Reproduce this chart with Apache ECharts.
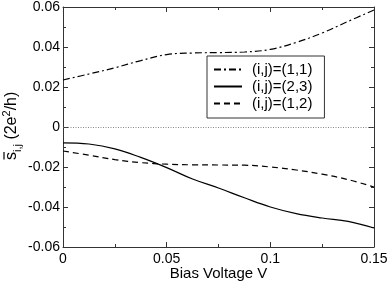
<!DOCTYPE html>
<html><head><meta charset="utf-8">
<script src="https://cdn.jsdelivr.net/npm/echarts@6/dist/echarts.min.js"></script>
<style>html,body{margin:0;padding:0;background:#fff}#c{width:391px;height:283px}</style>
</head><body><div id="c"></div>
<script>
const xValues = [0, 0.0125, 0.025, 0.0375, 0.05, 0.0625, 0.075, 0.0875, 0.1, 0.1125, 0.125, 0.1375, 0.15];
const s11 = [0.0235, 0.0265, 0.0296, 0.0332, 0.0362, 0.0370, 0.0372, 0.0375, 0.0388, 0.0423, 0.0470, 0.0528, 0.0585];
const s23 = [-0.0079, -0.0085, -0.0109, -0.0152, -0.0203, -0.0260, -0.0305, -0.0354, -0.0400, -0.0433, -0.0455, -0.0472, -0.0505];
const s12 = [-0.0120, -0.0141, -0.0163, -0.0178, -0.0186, -0.0189, -0.0190, -0.0191, -0.0200, -0.0215, -0.0236, -0.0263, -0.0300];
const seriesNames = ['(i,j)=(1,1)', '(i,j)=(2,3)', '(i,j)=(1,2)'];
const xTicks = ['0', '0.05', '0.1', '0.15'];
const yTicks = ['-0.06', '-0.04', '-0.02', '0', '0.02', '0.04', '0.06'];

const FONT = "'Liberation Sans', Arial, sans-serif";
const AX = '#333';
const pairs = arr => xValues.map((x, i) => [x, arr[i]]);
const fmtX = v => xTicks[Math.round(v / 0.05)];
const fmtY = v => yTicks[Math.round((v + 0.06) / 0.02)];

const baseAxis = {
  axisLine: { show: true, onZero: false, lineStyle: { color: AX, width: 1 } },
  axisTick: { show: true, inside: true, length: 5, lineStyle: { color: AX } },
  minorTick: { show: true, splitNumber: 2, length: 3, lineStyle: { color: AX } },
  splitLine: { show: false },
  minorSplitLine: { show: false }
};

const chart = echarts.init(document.getElementById('c'), null, { renderer: 'canvas' });
chart.setOption({
  animation: false,
  backgroundColor: '#fff',
  color: ['#000', '#000', '#000'],
  textStyle: { fontFamily: FONT },
  grid: { left: 63, right: 17, top: 7, bottom: 36, containLabel: false, outerBoundsMode: 'none' },
  legend: {
    orient: 'vertical', left: 207, top: 56,
    padding: [6, 12, 7, 6],
    itemWidth: 28, itemHeight: 14, itemGap: 2,
    borderColor: '#333', borderWidth: 1, backgroundColor: '#fff',
    itemStyle: { opacity: 0 },
    textStyle: { fontFamily: FONT, fontSize: 15, color: '#000', padding: [0, 0, 0, 5] },
    data: seriesNames
  },
  graphic: [{
    type: 'group', x: 12, y: 160, rotation: Math.PI / 2, silent: true,
    children: [
      {
        type: 'text', x: 0, y: 0,
        style: {
          text: '{s|s}{sub|i,j}{t| (2e}{sup|2}{t|/h)}',
          align: 'left', verticalAlign: 'middle', fill: '#000',
          font: '16px ' + FONT,
          rich: {
            s: { fontFamily: FONT, fontSize: 16, fill: '#000', lineHeight: 22, verticalAlign: 'middle' },
            t: { fontFamily: FONT, fontSize: 16, fill: '#000', lineHeight: 22, verticalAlign: 'middle' },
            sub: { fontFamily: FONT, fontSize: 11, fill: '#000', lineHeight: 22, verticalAlign: 'bottom' },
            sup: { fontFamily: FONT, fontSize: 11, fill: '#000', lineHeight: 22, verticalAlign: 'top' }
          }
        }
      },
      {
        type: 'line', shape: { x1: 0.5, y1: -8, x2: 8, y2: -8 },
        style: { stroke: '#000', lineWidth: 1.2 }
      }
    ]
  }],
  xAxis: [
    Object.assign({}, baseAxis, {
      type: 'value', min: 0, max: 0.15, interval: 0.05, position: 'bottom',
      name: 'Bias Voltage V', nameLocation: 'middle', nameGap: 19, nameMoveOverlap: false,
      nameTextStyle: { fontFamily: FONT, fontSize: 15, color: '#000' },
      axisLabel: { show: true, formatter: fmtX, fontFamily: FONT, fontSize: 14, color: '#000', margin: 5 }
    }),
    Object.assign({}, baseAxis, {
      type: 'value', min: 0, max: 0.15, interval: 0.05, position: 'top',
      axisLabel: { show: false }
    })
  ],
  yAxis: [
    Object.assign({}, baseAxis, {
      type: 'value', min: -0.06, max: 0.06, interval: 0.02, position: 'left',
      axisLabel: { show: true, formatter: fmtY, fontFamily: FONT, fontSize: 14, color: '#000', margin: 3 }
    }),
    Object.assign({}, baseAxis, {
      type: 'value', min: -0.06, max: 0.06, interval: 0.02, position: 'right',
      axisLabel: { show: false }
    })
  ],
  series: [
    {
      name: seriesNames[0], type: 'line', data: pairs(s11), smooth: 0.4, symbol: 'none',
      itemStyle: { color: '#000' },
      lineStyle: { color: '#000', width: 1.2, type: [7, 3, 2, 3] },
      markLine: {
        silent: true, symbol: 'none', label: { show: false },
        lineStyle: { color: '#666', width: 0.8, type: [1, 1.5] },
        data: [{ yAxis: 0 }]
      }
    },
    {
      name: seriesNames[1], type: 'line', data: pairs(s23), smooth: 0.4, symbol: 'none',
      itemStyle: { color: '#000' },
      lineStyle: { color: '#000', width: 1.2, type: 'solid' }
    },
    {
      name: seriesNames[2], type: 'line', data: pairs(s12), smooth: 0.4, symbol: 'none',
      itemStyle: { color: '#000' },
      lineStyle: { color: '#000', width: 1.2, type: [6, 4] }
    }
  ]
});
</script></body></html>
